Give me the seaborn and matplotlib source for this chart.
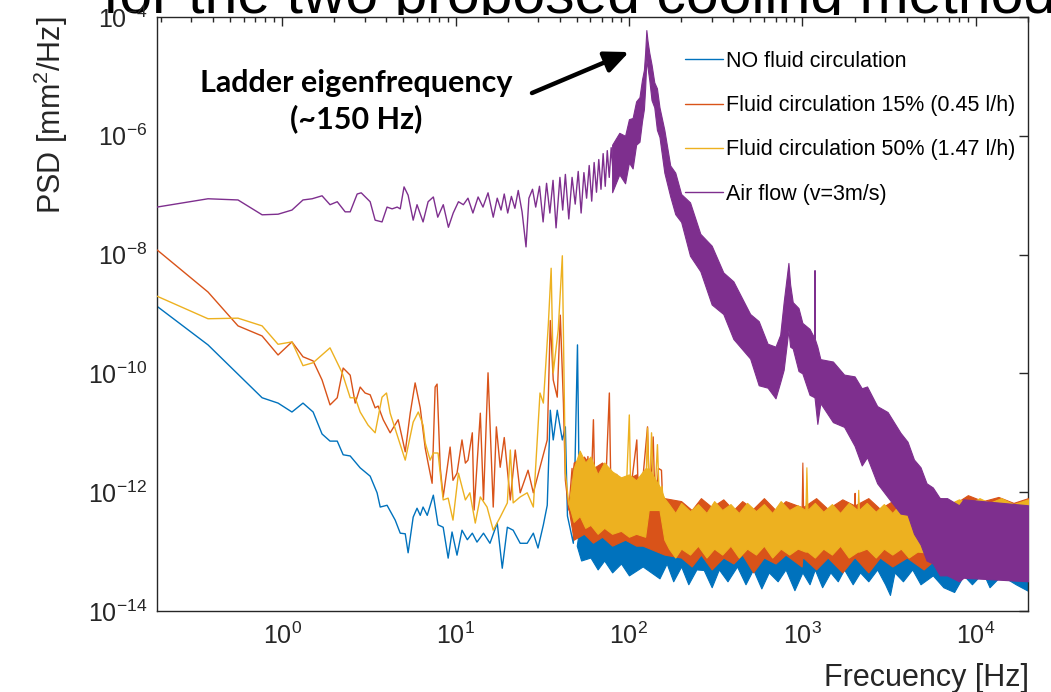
import numpy as np
import pandas as pd
import seaborn as sns
import matplotlib.pyplot as plt
from matplotlib.patches import Rectangle
from matplotlib.ticker import FixedLocator, LogLocator, LogFormatterMathtext, NullLocator

# === Values (frequency in Hz, PSD as log10 exponent) ===
labels = ["NO fluid circulation", "Fluid circulation 15% (0.45 l/h)",
          "Fluid circulation 50% (1.47 l/h)", "Air flow (v=3m/s)"]
colors = ["#0072BD", "#D95319", "#EDB120", "#7E2F8E"]

# sparse low-frequency traces
blue_f = [0.19, 0.374, 0.767, 0.948, 1.14, 1.32, 1.51, 1.70, 1.89, 2.08, 2.25, 2.47, 2.82, 3.22, 3.53,
          3.68, 4.03, 4.49, 4.80, 5.13, 5.33, 5.70, 6.0, 6.26, 6.50, 6.87, 7.45, 7.93, 8.49, 9.07,
          9.55, 10.2, 10.9, 11.7, 12.5, 13.3, 14.5, 15.8, 17.4, 18.6, 19.9, 21.5, 23.6, 25.9, 28.1,
          29.9, 32.1, 33.8, 35.2, 36.6, 38.6, 41.3, 43.0, 44.2, 47.8, 50.5, 52.0]
blue_e = [-8.87, -9.52, -10.41, -10.50, -10.65, -10.50, -10.65, -11.02, -11.14, -11.14, -11.37, -11.39,
          -11.59, -11.73, -12.01, -12.25, -12.22, -12.47, -12.69, -12.70, -13.02, -12.42, -12.27, -12.39,
          -12.25, -12.39, -12.05, -12.55, -12.59, -13.11, -12.67, -13.06, -12.64, -12.80, -12.69, -12.84,
          -12.69, -12.86, -12.52, -13.28, -12.59, -12.64, -12.86, -12.86, -12.69, -12.94, -12.55, -12.22,
          -10.62, -11.12, -10.62, -11.12, -10.9, -12.4, -12.86, -9.52, -12.6]

orange_f = [0.19, 0.374, 0.557, 0.767, 0.948, 1.14, 1.32, 1.51, 1.70, 1.89, 2.08, 2.25, 2.47, 2.64, 2.82,
            3.01, 3.22, 3.44, 3.58, 3.83, 4.20, 4.67, 5.13, 5.48, 5.85, 6.26, 6.69, 6.95, 7.33, 7.63,
            7.83, 8.16, 8.49, 9.31, 9.67, 10.2, 10.9, 11.4, 11.8, 12.5, 12.8, 13.9, 14.5, 15.4, 16.5,
            17.2, 18.1, 19.1, 20.7, 22.1, 23.6, 26.2, 28.1, 30.7, 33.8, 35.2, 36.6, 38.6, 40.2, 41.9,
            43.0, 45, 47, 49, 52, 55, 58, 60, 62.4, 64, 68, 72, 77.1, 79, 85, 90, 95, 100, 105, 111,
            114, 120, 128, 132, 138, 142, 148, 154, 158]
orange_e = [-7.92, -8.63, -9.20, -9.37, -9.69, -9.47, -9.72, -9.79, -10.11, -10.53, -10.41, -9.91, -10.03,
            -10.50, -10.23, -10.33, -10.36, -10.58, -10.55, -10.78, -11.00, -10.78, -11.32, -10.67, -10.16,
            -10.58, -11.26, -11.51, -11.85, -10.23, -10.18, -11.58, -12.08, -11.24, -11.80, -11.68, -11.12,
            -11.51, -11.46, -11.00, -12.30, -10.67, -12.13, -9.99, -12.25, -10.90, -11.58, -11.08, -12.13,
            -11.29, -12.01, -11.63, -12.01, -11.58, -11.12, -9.11, -10.11, -10.40, -9.02, -10.50, -11.8,
            -12.3, -11.6, -12.4, -11.9, -12.5, -11.4, -12.3, -10.78, -12.4, -11.8, -12.5, -10.33, -12.3,
            -11.7, -12.5, -11.9, -12.3, -11.7, -11.12, -12.4, -11.8, -10.90, -12.3, -11.07, -12.4, -11.6,
            -11.63, -12.5]

yellow_f = [0.19, 0.374, 0.557, 0.767, 0.948, 1.14, 1.32, 1.51, 1.89, 2.22, 2.47, 2.64, 2.82, 3.13, 3.44,
            3.77, 4.0, 4.20, 4.67, 5.13, 5.70, 6.1, 6.5, 6.69, 7.14, 7.45, 7.93, 8.49, 9.07, 9.67,
            10.4, 11.4, 12.1, 13.0, 13.9, 15.2, 16.5, 18.1, 19.9, 20.7, 21.5, 23.6, 25.9, 28.1, 30.7,
            32.1, 34.3, 35.6, 36.6, 39.1, 41.3, 43.0, 45, 48, 51, 54, 57, 60, 64, 68, 72, 76, 80, 85,
            90, 95, 100.5, 103, 108, 113, 118, 124, 128, 131, 135, 140, 146, 150, 155, 160]
yellow_e = [-8.70, -9.08, -9.07, -9.20, -9.51, -9.47, -9.87, -9.82, -9.57, -9.99, -10.41, -10.41, -10.65,
            -10.87, -11.00, -10.40, -10.33, -10.67, -11.09, -11.46, -10.82, -10.65, -10.87, -11.17, -11.46,
            -11.34, -11.34, -12.13, -12.10, -12.47, -11.68, -12.13, -12.01, -12.52, -12.08, -12.25, -12.64,
            -12.42, -12.18, -11.29, -12.18, -12.08, -12.01, -12.25, -10.33, -10.50, -9.17, -8.23, -9.99,
            -9.27, -8.02, -11.68, -12.2, -12.4, -11.6, -12.3, -11.8, -12.5, -11.6, -12.3, -11.9, -12.5,
            -11.7, -12.4, -11.9, -12.5, -10.70, -12.4, -11.8, -12.3, -11.9, -12.4, -10.92, -12.2, -11.0,
            -12.3, -11.2, -12.2, -11.9, -12.3]

air_f = [0.19, 0.374, 0.557, 0.767, 0.948, 1.14, 1.32, 1.49, 1.70, 1.89, 2.08, 2.31, 2.47, 2.71, 2.86,
         3.22, 3.44, 3.77, 4.03, 4.31, 4.61, 4.80, 5.05, 5.33, 5.70, 6.0, 6.5, 6.95, 7.45, 7.9,
         8.5, 9.1, 9.7, 10.4, 11.1, 11.8, 12.6, 13.5, 14.4, 15.4, 16.5, 17.4, 18.3, 19.1, 20.0,
         21.0, 22.0, 23.0, 24.2, 25.5, 26.5, 27.8, 29.0, 30.5, 32, 33.5, 35, 36.5, 38, 40, 41.5,
         43, 45, 47, 49, 51, 53, 55, 57, 59, 61, 63, 65, 67, 69, 71, 73, 75, 77, 79, 81]
air_e = [-7.20, -7.06, -7.08, -7.33, -7.32, -7.25, -7.08, -7.06, -7.01, -7.16, -7.11, -7.28, -7.28, -6.98,
         -6.96, -7.11, -7.42, -7.45, -7.20, -7.23, -7.20, -7.23, -6.86, -7.00, -7.42, -7.16, -7.45, -7.11,
         -7.03, -7.37, -7.16, -7.54, -7.30, -7.11, -7.16, -7.05, -7.30, -7.03, -7.20, -6.96, -7.37, -7.05,
         -7.25, -6.98, -7.30, -7.02, -7.22, -6.92, -7.28, -7.87, -7.05, -6.90, -7.20, -6.85, -7.45, -6.80,
         -7.30, -6.75, -7.55, -6.70, -7.25, -6.65, -7.40, -6.70, -7.15, -6.60, -7.30, -6.62, -7.05, -6.50,
         -7.10, -6.45, -6.95, -6.40, -6.90, -6.30, -6.85, -6.25, -6.70, -6.20, -6.60]

# dense high-frequency noise, read as lower / upper envelopes
blue_band_f = [50, 53, 60, 66, 72, 80, 90, 100, 120, 150, 165, 180, 200, 220, 245, 270, 300, 330, 370,
               420, 470, 520, 580, 640, 720, 800, 900, 1000, 1100, 1180, 1300, 1450, 1600, 1740, 1950,
               2150, 2400, 2700, 3000, 3200, 3400, 3800, 4300, 4800, 5650, 6500, 7500, 8500, 9500,
               11000, 12000, 14000, 17000, 20000]
blue_band_lo = [-12.9, -13.15, -13.1, -13.3, -13.15, -13.35, -13.2, -13.4, -13.25, -13.45, -13.2, -13.5,
                -13.25, -13.55, -13.3, -13.31, -13.6, -13.3, -13.5, -13.25, -13.55, -13.3, -13.62, -13.35,
                -13.5, -13.3, -13.65, -13.35, -13.55, -13.3, -13.6, -13.35, -13.5, -13.3, -13.55, -13.35,
                -13.5, -13.3, -13.55, -13.73, -13.35, -13.5, -13.3, -13.55, -13.4, -13.6, -13.68, -13.4,
                -13.55, -13.35, -13.6, -13.4, -13.55, -13.66]
blue_band_hi = [-12.9, -12.4, -12.45, -12.5, -12.45, -12.55, -12.5, -12.6, -12.55, -12.75, -12.8, -12.85,
                -12.85, -12.9, -12.9, -12.9, -12.9, -12.95, -12.95, -12.95, -12.95, -12.95, -12.95, -12.95,
                -12.95, -12.95, -12.95, -12.95, -12.95, -12.95, -12.95, -12.95, -12.95, -12.95, -12.95,
                -12.95, -12.95, -12.95, -12.95, -12.95, -12.95, -12.95, -12.95, -12.95, -12.95, -12.95,
                -12.95, -12.95, -12.95, -12.95, -12.95, -12.95, -12.95, -12.95]

orange_band_f = [45, 48, 55, 62, 70, 80, 95, 110, 120, 160, 200, 230, 260, 300, 350, 400, 450, 520, 600,
                 700, 800, 990, 1000, 1010, 1200, 1400, 1700, 1990, 2000, 2010, 2400, 2800, 3300, 4000,
                 5000, 6000, 7500, 9000, 11000, 13500, 16500, 20000]
orange_band_lo = [-12.3, -12.8, -12.7, -12.85, -12.75, -12.9, -12.8, -12.9, -12.9, -13.05, -13.1, -13.25,
                  -13.05, -13.3, -13.1, -13.2, -13.05, -13.35, -13.1, -13.2, -13.05, -13.25, -13.1, -13.1,
                  -13.3, -13.1, -13.35, -13.1, -13.1, -13.1, -13.35, -13.1, -13.25, -13.1, -13.3, -13.1,
                  -13.35, -13.15, -13.4, -13.2, -13.35, -13.25]
orange_band_hi = [-12.3, -11.5, -11.4, -11.6, -11.5, -11.7, -11.8, -11.7, -11.9, -12.1, -12.15, -12.3,
                  -12.1, -12.25, -12.12, -12.3, -12.15, -12.28, -12.1, -12.3, -12.15, -12.25, -11.5, -12.25,
                  -12.1, -12.28, -12.12, -12.22, -12.01, -12.22, -12.1, -12.28, -12.15, -12.25, -12.15,
                  -12.08, -12.2, -12.05, -12.15, -12.08, -12.18, -12.1]

yellow_band_f = [45, 48, 52, 56, 60, 66, 72, 80, 90, 100, 110, 124, 130, 150, 160, 170, 185, 200, 225, 250,
                 280, 310, 345, 385, 430, 480, 540, 600, 670, 750, 840, 940, 1040, 1055, 1070, 1180, 1320,
                 1480, 1650, 1850, 2080, 2100, 2120, 2350, 2650, 2950, 3300, 3700, 4100, 4600, 7000, 8000,
                 9200, 10500, 12000, 14000, 16500, 20000]
yellow_band_lo = [-12.2, -12.5, -12.4, -12.6, -12.55, -12.7, -12.6, -12.7, -12.65, -12.75, -12.7, -12.75,
                  -12.3, -12.3, -12.8, -12.95, -13.1, -12.95, -13.05, -12.9, -13.1, -12.95, -13.05, -12.9,
                  -13.1, -12.95, -13.05, -12.9, -13.1, -12.95, -13.05, -12.95, -13.0, -13.0, -13.0, -13.1,
                  -12.95, -13.05, -12.9, -13.1, -13.0, -13.0, -13.0, -12.95, -13.1, -12.95, -13.05, -12.95,
                  -13.1, -13.0, -13.05, -13.1, -13.0, -13.1, -13.05, -13.1, -13.0, -13.05]
yellow_band_hi = [-12.2, -11.6, -11.3, -11.5, -11.4, -11.7, -11.5, -11.65, -11.75, -11.7, -11.8, -11.6,
                  -11.6, -11.9, -12.1, -12.2, -12.35, -12.18, -12.32, -12.2, -12.35, -12.15, -12.3, -12.2,
                  -12.35, -12.18, -12.32, -12.2, -12.35, -12.15, -12.3, -12.22, -12.3, -11.58, -12.3,
                  -12.18, -12.33, -12.2, -12.35, -12.18, -12.3, -11.96, -12.3, -12.18, -12.33, -12.2,
                  -12.35, -12.18, -12.3, -12.25, -12.2, -12.12, -12.2, -12.1, -12.18, -12.1, -12.2, -12.12]

air_band_f = [80, 88, 95, 100, 105, 110, 115, 119, 122, 124, 126, 128, 131, 135, 140, 145, 150, 160, 173,
              185, 200, 225, 258, 300, 350, 400, 500, 560, 630, 700, 745, 780, 831, 850, 880, 950, 1000,
              1100, 1170, 1175, 1180, 1220, 1270, 1500, 1740, 2000, 2200, 2360, 2700, 3100, 3680, 4040,
              4400, 4800, 5200, 5650, 6200, 6830, 8000, 8500, 20000]
air_band_lo = [-6.95, -6.65, -6.80, -6.45, -6.55, -6.15, -6.10, -5.75, -5.55, -5.20, -4.72, -4.85, -5.06,
               -5.40, -5.52, -5.90, -6.02, -6.62, -7.02, -7.32, -7.45, -8.02, -8.28, -8.84, -9.0, -9.42,
               -9.75, -10.2, -10.24, -10.42, -10.15, -9.94, -9.27, -9.55, -9.58, -9.96, -10.0, -10.36,
               -10.40, -10.40, -10.45, -10.85, -10.5, -10.82, -10.9, -11.22, -11.55, -11.41, -11.85,
               -12.08, -12.36, -12.38, -12.7, -12.88, -13.15, -13.2, -13.4, -13.4, -13.5, -13.44, -13.5]
air_band_hi = [-6.15, -5.95, -6.0, -5.72, -5.7, -5.42, -5.35, -5.05, -4.89, -4.60, -4.22, -4.40, -4.60,
               -4.80, -5.10, -5.2, -5.52, -5.9, -6.5, -6.62, -6.98, -7.12, -7.65, -7.85, -8.3, -8.45,
               -9.0, -9.12, -9.5, -9.55, -9.35, -8.80, -8.14, -8.5, -8.8, -8.9, -9.15, -9.25, -9.40,
               -8.26, -9.42, -9.55, -9.76, -9.8, -10.02, -10.05, -10.25, -10.22, -10.55, -10.65, -11.0,
               -11.15, -11.45, -11.58, -11.85, -11.92, -12.1, -12.1, -12.22, -12.12, -12.22]

series = [
    (blue_f, blue_e, blue_band_f, blue_band_lo, blue_band_hi),
    (orange_f, orange_e, orange_band_f, orange_band_lo, orange_band_hi),
    (yellow_f, yellow_e, yellow_band_f, yellow_band_lo, yellow_band_hi),
    (air_f, air_e, air_band_f, air_band_lo, air_band_hi),
]

# === Style ===
sns.set_style("white")
plt.rcParams["font.family"] = ["Liberation Sans", "DejaVu Sans"]
plt.rcParams["mathtext.fontset"] = "custom"
plt.rcParams["mathtext.rm"] = "Liberation Sans"
ink = "#262626"

fig = plt.figure(figsize=(10.51, 6.92), dpi=100)
ax = fig.add_axes([157 / 1051, 81 / 692, 871 / 1051, 594 / 692])
ax.set_xscale("log")
ax.set_yscale("log")

handles = []
for i, (f, e, bf, blo, bhi) in enumerate(series):
    df = pd.DataFrame({"f": f, "psd": 10.0 ** np.array(e)})
    sns.lineplot(data=df, x="f", y="psd", sort=False, estimator=None, color=colors[i],
                 lw=1.0, ax=ax, zorder=2 + i)
    handles.append(ax.lines[-1])
    ax.fill_between(bf, 10.0 ** np.array(blo), 10.0 ** np.array(bhi), color=colors[i],
                    lw=0.8, zorder=2 + i)

ax.set_xlim(0.19, 2.0e4)
ax.set_ylim(1e-14, 1e-4)

ax.xaxis.set_major_locator(LogLocator(base=10))
ax.xaxis.set_minor_locator(LogLocator(base=10, subs=np.arange(2, 10)))
ax.yaxis.set_major_locator(FixedLocator([1e-14, 1e-12, 1e-10, 1e-8, 1e-6, 1e-4]))
ax.yaxis.set_minor_locator(NullLocator())
ax.xaxis.set_major_formatter(LogFormatterMathtext())
ax.yaxis.set_major_formatter(LogFormatterMathtext())
ax.tick_params(which="both", direction="in", top=True, right=True, colors=ink,
               labelsize=18, width=1.0)
ax.tick_params(which="major", length=6.5, pad=7)
ax.tick_params(which="minor", length=3.6)
ax.tick_params(axis="x", pad=8)
for s in ax.spines.values():
    s.set_color(ink)
    s.set_linewidth(1.0)

ax.set_xlabel("Frecuency [Hz]", fontsize=22, color=ink)
ax.set_ylabel("PSD [mm$^2$/Hz]", fontsize=22, color=ink)
ax.xaxis.set_label_coords(0.883, -0.0875)
ax.yaxis.set_label_coords(-0.0999, 0.835)

leg = ax.legend(handles=handles, labels=labels, loc="upper left", bbox_to_anchor=(0.606, 0.943),
                frameon=False, fontsize=15.5, borderpad=0, borderaxespad=0, handlelength=1.77,
                handletextpad=0.15, labelspacing=1.08)
for t in leg.get_texts():
    t.set_color("black")

# === Annotation ===
ax.text(0.2285, 0.858, "Ladder eigenfrequency\n(~150 Hz)", transform=ax.transAxes, ha="center",
        va="center", fontsize=22, fontweight="bold", family=["Lato", "DejaVu Sans"], color="black",
        linespacing=1.3, zorder=10)
ax.annotate("", xy=(0.5419, 0.941), xytext=(0.4305, 0.872), xycoords="axes fraction",
            textcoords="axes fraction", zorder=10,
            arrowprops=dict(arrowstyle="-|>,head_length=1.45,head_width=0.65", color="black", lw=3.2,
                            shrinkA=0, shrinkB=0))

# slide title peeking in above the plot
fig.text(103 / 1051, 1 - 13 / 692, "for the two proposed cooling methods", fontsize=42.4,
         ha="left", va="baseline", color="black", zorder=-2)
fig.add_artist(Rectangle((0, 0), 1, 1 - 15 / 692, transform=fig.transFigure, facecolor="white",
                         edgecolor="none", zorder=-1))

fig.savefig("out.png", dpi=100)
